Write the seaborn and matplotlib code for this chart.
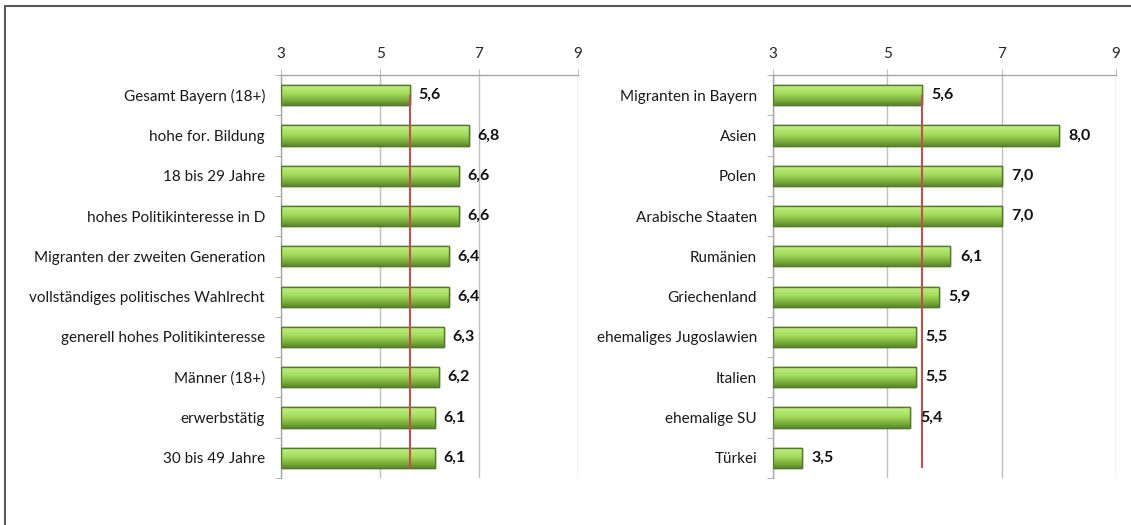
import seaborn as sns
import matplotlib.pyplot as plt
import numpy as np
import pandas as pd
from matplotlib.colors import LinearSegmentedColormap
from matplotlib.patches import Rectangle

sns.set_style("white")
plt.rcParams['font.family'] = ['Lato', 'DejaVu Sans']

# data
left_labels = ["Gesamt Bayern (18+)", "hohe for. Bildung", "18 bis 29 Jahre",
               "hohes Politikinteresse in D", "Migranten der zweiten Generation",
               "vollständiges politisches Wahlrecht", "generell hohes Politikinteresse",
               "Männer (18+)", "erwerbstätig", "30 bis 49 Jahre"]
left_values = [5.6, 6.8, 6.6, 6.6, 6.4, 6.4, 6.3, 6.2, 6.1, 6.1]

right_labels = ["Migranten in Bayern", "Asien", "Polen", "Arabische Staaten",
                "Rumänien", "Griechenland", "ehemaliges Jugoslawien", "Italien",
                "ehemalige SU", "Türkei"]
right_values = [5.6, 8.0, 7.0, 7.0, 6.1, 5.9, 5.5, 5.5, 5.4, 3.5]

ref_value = 5.6
x_ticks = [3, 5, 7, 9]

# vertical bevel: dark bottom -> bright middle -> light top
green = LinearSegmentedColormap.from_list(
    "bar", [(0.0, "#5c8a2c"), (0.25, "#7fb33f"), (0.55, "#a3dc5c"),
            (0.8, "#b5e874"), (1.0, "#caf091")])


def draw_panel(ax, labels, values):
    df = pd.DataFrame({"label": labels, "value": values})
    sns.barplot(data=df, x="value", y="label", ax=ax, color="#9bd35a",
                width=0.5, edgecolor="#4f6228", linewidth=1.0)
    # gradient fill on each bar (first image row ends up at the visual top)
    grad = np.linspace(1, 0, 64).reshape(-1, 1)
    for p in list(ax.patches):
        x0, y0 = p.get_x(), p.get_y()
        w, h = p.get_width(), p.get_height()
        im = ax.imshow(grad, cmap=green, aspect="auto",
                       extent=(3, x0 + w, y0 + h, y0), zorder=2,
                       interpolation="bicubic")
        im.set_clip_path(p)
        ax.add_patch(Rectangle((3, y0), x0 + w - 3, h, fill=False,
                               edgecolor="#557a2c", linewidth=1.0, zorder=3))
    ax.set_xlim(3, 9)
    ax.set_ylim(9.5, -0.5)
    ax.set_xticks(x_ticks)
    ax.xaxis.tick_top()
    ax.tick_params(axis="x", top=True, bottom=False, length=4, color="#bfbfbf",
                   labelsize=11, labelcolor="#262626", pad=6)
    ax.tick_params(axis="y", which="major", left=False, labelsize=11,
                   labelcolor="#1a1a1a", pad=8)
    ax.set_yticks(np.arange(-0.5, 10, 1), minor=True)
    ax.tick_params(axis="y", which="minor", left=True, length=4, color="#a6a6a6")
    ax.grid(axis="x", color="#bfbfbf", linewidth=1.0, zorder=0)
    ax.set_axisbelow(True)
    for s in ["right", "bottom"]:
        ax.spines[s].set_visible(False)
    for s in ["left", "top"]:
        ax.spines[s].set_color("#a6a6a6")
        ax.spines[s].set_linewidth(1.0)
    ax.set_xlabel("")
    ax.set_ylabel("")
    for i, v in enumerate(values):
        ax.text(v + 0.17, i, f"{v:.1f}".replace(".", ","), va="center",
                ha="left", fontsize=11.5, fontweight="bold", color="#111111",
                zorder=5)
    ax.vlines(ref_value, 0, 9.25, color="#c0504d", linewidth=1.5, zorder=4)


fig = plt.figure(figsize=(11.31, 5.25), dpi=100)
ax1 = fig.add_axes([0.2485, 0.0895, 0.2626, 0.7676])
ax2 = fig.add_axes([0.6835, 0.0895, 0.3033, 0.7676])
draw_panel(ax1, left_labels, left_values)
draw_panel(ax2, right_labels, right_values)

# outer frame (only left and top edges visible)
fig.add_artist(plt.Line2D([0.0045, 0.0045], [0, 0.989], color="#595959", lw=1.5))
fig.add_artist(plt.Line2D([0.0045, 1.0], [0.989, 0.989], color="#595959", lw=1.5))

fig.savefig("out.png", dpi=100)
